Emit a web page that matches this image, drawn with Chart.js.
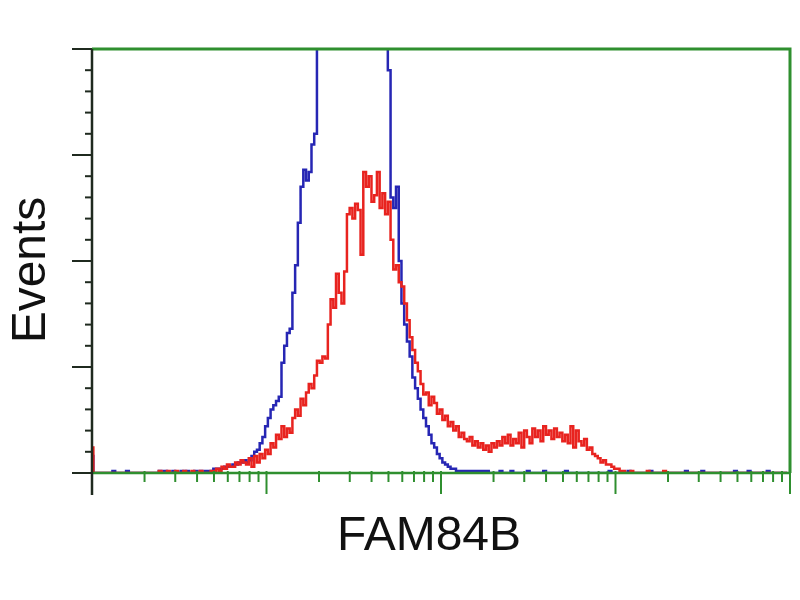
<!DOCTYPE html>
<html>
<head>
<meta charset="utf-8">
<script src="https://cdn.jsdelivr.net/npm/chart.js@4.4.1/dist/chart.umd.min.js"></script>
<style>
  html, body { margin: 0; padding: 0; background: #fff; }
  canvas { display: block; }
</style>
</head>
<body>
<canvas id="chart" width="800" height="600"></canvas>
<script>
// histogram counts per channel (256 channels across 4 log decades)
const blueCounts = [
  8,0,0,0,0,0,0,0,1,0,0,0,0,1,0,0,
  0,0,0,0,0,0,0,0,0,1,0,1,0,0,1,0,
  0,1,0,1,0,0,1,0,1,0,1,1,1,2,2,2,
  2,3,3,3,4,4,5,5,6,5,6,8,10,11,14,17,
  22,26,30,32,34,36,52,60,66,68,85,98,118,135,143,138,
  142,155,160,260,270,275,280,285,290,290,295,295,300,300,300,300,
  300,300,300,295,290,285,280,275,270,260,250,240,205,190,130,125,
  135,100,80,70,62,55,45,40,35,30,26,22,18,14,12,9,
  7,5,4,3,2,2,1,1,1,1,1,1,1,1,1,1,
  1,1,0,0,0,0,1,0,0,0,1,0,0,0,0,0,
  1,0,0,0,0,0,1,0,0,0,0,0,0,0,1,0,
  0,0,0,0,0,0,0,0,0,0,0,0,0,0,1,0,
  0,0,0,0,0,1,0,0,0,0,0,0,0,1,0,0,
  0,0,0,0,0,0,0,0,0,0,1,0,0,0,0,0,
  1,0,0,0,0,0,0,0,0,0,0,0,1,0,0,0,
  0,1,0,0,0,0,0,0,1,0,0,0,0,0,0,0
];
const redCounts = [
  12,0,0,0,0,0,0,0,0,0,0,0,0,0,0,0,
  0,0,0,0,0,0,0,0,0,1,0,0,1,0,0,1,
  0,0,1,0,0,1,0,0,1,0,0,0,1,1,2,1,
  3,2,4,3,3,5,4,6,5,4,7,3,8,5,9,7,
  11,9,14,12,18,16,22,17,21,19,26,30,27,35,32,38,
  42,40,46,53,52,55,54,70,82,78,94,85,80,95,122,125,
  120,127,124,103,142,135,140,128,131,142,125,132,122,128,110,96,
  98,90,88,80,72,64,58,52,48,42,37,38,32,36,33,28,
  30,25,27,22,24,20,22,17,19,16,15,17,13,15,12,14,
  11,13,10,14,12,15,13,17,14,18,13,16,14,19,12,20,
  17,14,21,17,20,15,22,18,20,16,21,17,19,15,18,14,
  22,12,20,15,13,16,11,12,9,8,7,5,6,4,4,3,
  2,2,1,1,0,0,1,0,0,0,0,0,1,0,0,0,
  0,0,1,0,0,0,0,0,0,0,0,0,0,0,0,0,
  0,0,0,0,0,0,0,0,0,0,0,0,0,0,0,0,
  0,0,0,0,0,0,0,0,0,0,0,0,0,0,0,0
];
const xMajorTicks = [0, 64, 128, 192, 256];   // decade boundaries
const yMajorTicks = [0, 50, 100, 150, 200];
const yMinorStep = 10;
const xTitle = 'FAM84B';
const yTitle = 'Events';

const GREEN = '#2f8f2f';
const DARK = '#1f2a1f';

const toPoints = counts => counts.map((v, i) => ({ x: i, y: v }));

const framePlugin = {
  id: 'frame',
  afterDatasetsDraw(chart) {
    const { ctx, chartArea: a, scales: { x, y } } = chart;
    ctx.save();
    ctx.lineCap = 'butt';

    // top and right border
    ctx.strokeStyle = GREEN;
    ctx.lineWidth = 3;
    ctx.beginPath();
    ctx.moveTo(a.left, a.top);
    ctx.lineTo(a.right, a.top);
    ctx.lineTo(a.right, a.bottom);
    ctx.stroke();

    // x axis line
    ctx.lineWidth = 2.5;
    ctx.beginPath();
    ctx.moveTo(a.left, a.bottom);
    ctx.lineTo(a.right, a.bottom);
    ctx.stroke();

    // x ticks: majors at decades, minors at log positions
    ctx.lineWidth = 2;
    const decade = xMajorTicks[1] - xMajorTicks[0];
    xMajorTicks.forEach((t, i) => {
      const px = x.getPixelForValue(t);
      ctx.beginPath();
      ctx.moveTo(px, a.bottom - 2);
      ctx.lineTo(px, a.bottom + 21);
      ctx.stroke();
      if (i < xMajorTicks.length - 1) {
        for (let k = 2; k <= 9; k++) {
          const mx = x.getPixelForValue(t + decade * Math.log10(k));
          ctx.beginPath();
          ctx.moveTo(mx, a.bottom - 2);
          ctx.lineTo(mx, a.bottom + 9);
          ctx.stroke();
        }
      }
    });

    // left axis
    ctx.strokeStyle = DARK;
    ctx.lineWidth = 2.5;
    ctx.beginPath();
    ctx.moveTo(a.left, a.top);
    ctx.lineTo(a.left, a.bottom + 22);
    ctx.stroke();

    ctx.lineWidth = 2;
    for (let v = y.min; v <= y.max; v += yMinorStep) {
      const py = y.getPixelForValue(v);
      const major = yMajorTicks.includes(v);
      ctx.beginPath();
      ctx.moveTo(a.left - (major ? 20 : 7), py);
      ctx.lineTo(a.left, py);
      ctx.stroke();
    }
    ctx.restore();
  },
  afterDraw(chart) {
    const { ctx, chartArea: a } = chart;
    ctx.save();
    ctx.fillStyle = '#111';
    ctx.font = '48px "Liberation Sans", Arial, sans-serif';
    ctx.textAlign = 'center';
    ctx.textBaseline = 'alphabetic';
    ctx.fillText(xTitle, (a.left + a.right) / 2 - 12, 550);
    ctx.translate(45, (a.top + a.bottom) / 2 + 9);
    ctx.rotate(-Math.PI / 2);
    ctx.fillText(yTitle, 0, 0);
    ctx.restore();
  }
};

new Chart(document.getElementById('chart'), {
  type: 'line',
  data: {
    datasets: [
      {
        label: 'stained',
        data: toPoints(redCounts),
        borderColor: '#e8231f',
        borderWidth: 2.5,
        pointRadius: 0,
        stepped: 'middle'
      },
      {
        label: 'control',
        data: toPoints(blueCounts),
        borderColor: '#2626b4',
        borderWidth: 2.5,
        pointRadius: 0,
        stepped: 'middle'
      }
    ]
  },
  options: {
    responsive: false,
    animation: false,
    layout: { padding: { left: 92, top: 49, right: 10, bottom: 127 } },
    scales: {
      x: { type: 'linear', min: 0, max: 256, display: false },
      y: { min: 0, max: 200, display: false }
    },
    plugins: {
      legend: { display: false },
      tooltip: { enabled: false }
    }
  },
  plugins: [framePlugin]
});
</script>
</body>
</html>
